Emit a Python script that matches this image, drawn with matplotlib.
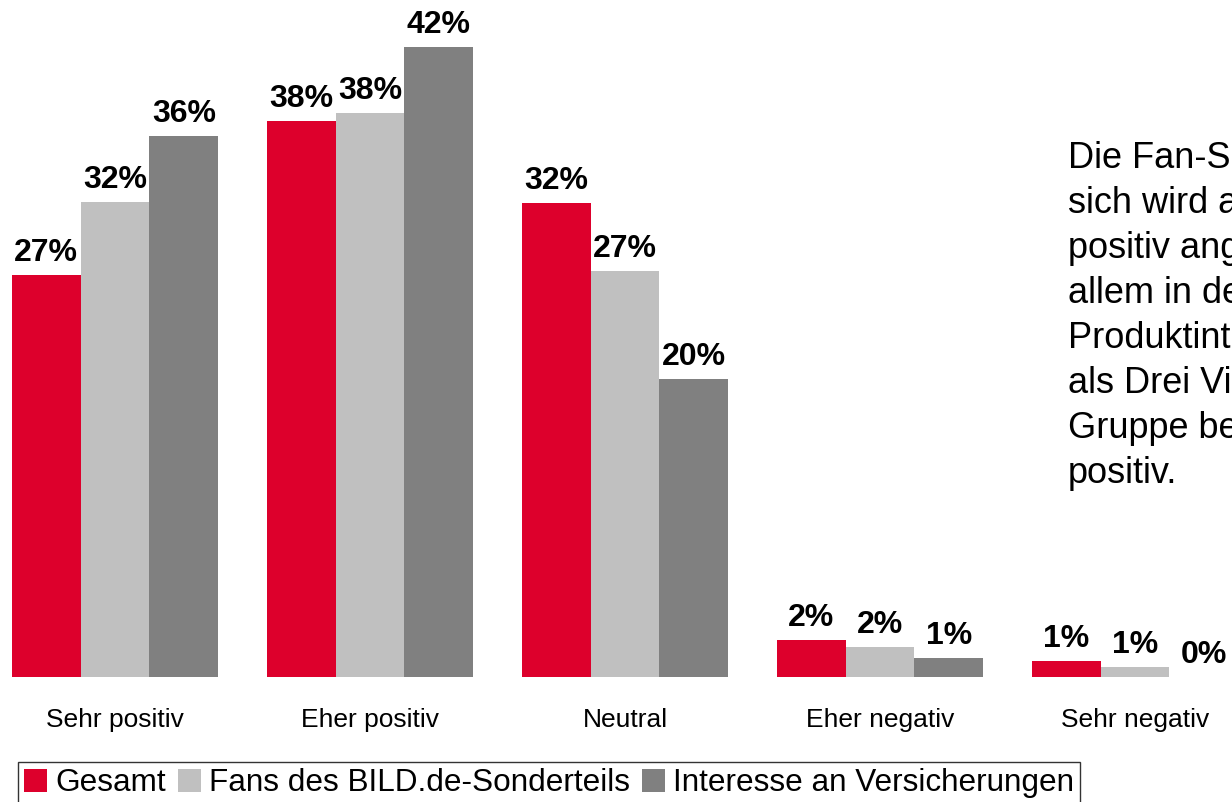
import numpy as np
import matplotlib
matplotlib.use('Agg')
import matplotlib.pyplot as plt

plt.rcParams['font.family'] = ['Liberation Sans', 'DejaVu Sans']

kategorien = ['Sehr positiv', 'Eher positiv', 'Neutral', 'Eher negativ', 'Sehr negativ']
serien = ['Gesamt', 'Fans des BILD.de-Sonderteils', 'Interesse an Versicherungen']
gesamt = [26.8, 37.1, 31.6, 2.5, 1.1]
fans = [31.7, 37.6, 27.1, 2.0, 0.7]
interesse = [36.1, 42.0, 19.9, 1.3, 0.0]
etiketten_gesamt = ['27%', '38%', '32%', '2%', '1%']
etiketten_fans = ['32%', '38%', '27%', '2%', '1%']
etiketten_interesse = ['36%', '42%', '20%', '1%', '0%']
farben = ['#DD002C', '#C0C0C0', '#808080']

textzeilen = ['Die Fan-S', 'sich wird a', 'positiv ang', 'allem in de',
              'Produktint', 'als Drei Vi', 'Gruppe be', 'positiv.']

W, H = 1232, 802
fig = plt.figure(figsize=(W / 100, H / 100), dpi=100)
# achse ueber die ganze breite, grundlinie bei y=677 px
ax = fig.add_axes([0, (H - 677) / H, 1, 677 / H])

x = np.arange(len(kategorien))
b = 0.27
werte = [gesamt, fans, interesse]
etiketten = [etiketten_gesamt, etiketten_fans, etiketten_interesse]
for i in range(3):
    pos = x + (i - 1) * b
    ax.bar(pos, werte[i], width=b, color=farben[i], label=serien[i])
    for xp, v, t in zip(pos, werte[i], etiketten[i]):
        ax.annotate(t, (xp, v), xytext=(0, 10), textcoords='offset points',
                    ha='center', va='baseline', fontsize=23, fontweight='bold')

ax.set_xlim(-115 / 255, (W - 115) / 255)
ax.set_ylim(0, 677 / 15)
ax.set_xticks(x)
ax.set_xticklabels(kategorien, fontsize=19)
ax.tick_params(axis='x', length=0, pad=22)
ax.set_yticks([])
for s in ax.spines.values():
    s.set_visible(False)

# rechter textblock, im original am rand abgeschnitten
fig.text(1068 / W, 1 - 141 / H, '\n'.join(textzeilen), fontsize=26,
         ha='left', va='top', linespacing=1.37)

leg = fig.legend(loc='upper left', bbox_to_anchor=(18 / W, 1 - 762 / H),
                 ncol=3, fontsize=22.7, frameon=True, fancybox=False,
                 handlelength=0.72, handleheight=0.72, handletextpad=0.25,
                 columnspacing=0.4, borderpad=0.2, borderaxespad=0)
leg.get_frame().set_edgecolor('black')
leg.get_frame().set_linewidth(1.0)

fig.savefig('out.png', dpi=100)
